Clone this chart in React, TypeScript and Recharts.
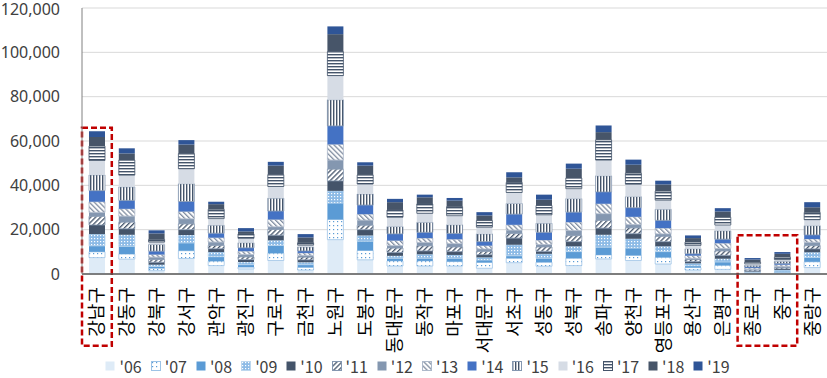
import { BarChart, Bar, XAxis, YAxis, CartesianGrid, Legend, ReferenceArea } from 'recharts';

// 자치구 (x축)
const districts = [
  '강남구', '강동구', '강북구', '강서구', '관악구', '광진구', '구로구', '금천구', '노원구',
  '도봉구', '동대문구', '동작구', '마포구', '서대문구', '서초구', '성동구', '성북구', '송파구',
  '양천구', '영등포구', '용산구', '은평구', '종로구', '중구', '중랑구',
];

// 연도별 값 (districts 순서)
const v06 = [7400, 6700, 1500, 7000, 3800, 2300, 6100, 1800, 15500, 6400, 3600, 3600, 3600, 2600, 5100, 3500, 3800, 6800, 6100, 4500, 1800, 2100, 200, 400, 2900];
const v07 = [2600, 2300, 1100, 3500, 2000, 800, 3300, 1200, 9100, 4200, 2300, 2300, 2000, 2600, 2000, 1800, 3300, 1800, 2300, 3000, 1100, 1800, 200, 400, 2600];
const v08 = [2700, 3500, 800, 3500, 2000, 1100, 3500, 1200, 7400, 4200, 1200, 1200, 1500, 1100, 1100, 1800, 3000, 3500, 3300, 2600, 800, 1500, 300, 500, 2000];
const v09 = [5300, 5200, 800, 3600, 2100, 1200, 2300, 1100, 5500, 2600, 1100, 1800, 1500, 1200, 5000, 2000, 2400, 5600, 4200, 2400, 1100, 1500, 300, 500, 2300];
const v10 = [4100, 2700, 1100, 2400, 1500, 1100, 2300, 1100, 4500, 2600, 1500, 1500, 1500, 1200, 3000, 1100, 2100, 3000, 2300, 2100, 800, 1500, 300, 500, 1500];
const v11 = [3900, 3000, 1200, 2600, 1500, 1200, 2600, 1200, 5300, 2000, 2000, 2300, 2100, 1500, 2100, 2000, 2700, 3500, 2600, 2400, 900, 2000, 500, 600, 1500];
const v12 = [1800, 2700, 1100, 2300, 1500, 1100, 1200, 800, 4100, 2300, 1100, 1500, 1500, 1100, 1500, 1100, 2300, 3000, 1500, 1100, 600, 1100, 300, 500, 1500];
const v13 = [4800, 3300, 1200, 3300, 2000, 1500, 3300, 1100, 7100, 2700, 2300, 2000, 2000, 1500, 2400, 2000, 3800, 4500, 3500, 2600, 1200, 2400, 600, 800, 1500];
const v14 = [5000, 3800, 1500, 4500, 2000, 1500, 3800, 900, 8300, 4100, 3000, 2600, 2600, 1800, 4800, 3500, 4500, 5300, 4100, 3500, 800, 1800, 500, 600, 1800];
const v15 = [7100, 6100, 3000, 8000, 3600, 2300, 5800, 1800, 11800, 5000, 3300, 4500, 3900, 3500, 4800, 4100, 6100, 7300, 5000, 5000, 2300, 3800, 700, 900, 4200];
const v16 = [6500, 5300, 1100, 6800, 3000, 2000, 5300, 800, 10900, 4500, 4200, 4100, 4100, 3000, 5000, 3800, 4500, 7100, 5600, 4100, 1500, 2600, 700, 800, 2700];
const v17 = [6500, 6800, 1200, 6800, 4200, 2000, 5300, 1100, 10800, 4100, 3300, 4200, 4100, 3000, 4500, 4200, 4800, 9100, 5000, 4100, 1500, 3500, 700, 1100, 3300];
const v18 = [4100, 3000, 2700, 4100, 2300, 1100, 4100, 2400, 7900, 4200, 3500, 3000, 2700, 2300, 2300, 2600, 4200, 3500, 3800, 3000, 1800, 2600, 1200, 1500, 2300];
const v19 = [2600, 2300, 1400, 2000, 1100, 1500, 1700, 1500, 3500, 1500, 1500, 1200, 1200, 1500, 2300, 2300, 2300, 3000, 2300, 1700, 1200, 1500, 700, 800, 2300];

const yTicks = [0, 20000, 40000, 60000, 80000, 100000, 120000];

// 강조 박스 (빨간 점선)
const boxGangnam = { from: '강남구', to: '강남구', top: 66000 };
const boxJongno = { from: '종로구', to: '중구', top: 17500 };
const boxBottom = -32400;

const series = [
  { key: 'y06', name: "'06", values: v06, fill: '#DEEBF7' },
  { key: 'y07', name: "'07", values: v07, fill: 'url(#p07)', stroke: '#9DC3E6' },
  { key: 'y08', name: "'08", values: v08, fill: '#5B9BD5' },
  { key: 'y09', name: "'09", values: v09, fill: 'url(#p09)', stroke: '#BDD7EE' },
  { key: 'y10', name: "'10", values: v10, fill: '#44546A' },
  { key: 'y11', name: "'11", values: v11, fill: 'url(#p11)', stroke: '#8497B0' },
  { key: 'y12', name: "'12", values: v12, fill: '#8497B0' },
  { key: 'y13', name: "'13", values: v13, fill: 'url(#p13)', stroke: '#ADB9CA' },
  { key: 'y14', name: "'14", values: v14, fill: '#4472C4' },
  { key: 'y15', name: "'15", values: v15, fill: 'url(#p15)', stroke: '#8497B0' },
  { key: 'y16', name: "'16", values: v16, fill: '#D6DCE5' },
  { key: 'y17', name: "'17", values: v17, fill: 'url(#p17)', stroke: '#44546A' },
  { key: 'y18', name: "'18", values: v18, fill: '#475569' },
  { key: 'y19', name: "'19", values: v19, fill: '#2F5597' },
];

const chartData = districts.map((name, i) => {
  const row: Record<string, string | number> = { name };
  series.forEach((s) => {
    row[s.key] = s.values[i];
  });
  return row;
});

const FONT = "'Noto Sans CJK KR', 'Noto Sans', sans-serif";

const PatternDefs = () => (
  <svg width={0} height={0} style={{ position: 'absolute' }}>
    <defs>
      <pattern id="p07" width={4} height={4} patternUnits="userSpaceOnUse">
        <rect width={4} height={4} fill="#fff" />
        <rect x={1} y={1} width={1.2} height={1.2} fill="#5B9BD5" />
      </pattern>
      <pattern id="p09" width={3} height={3} patternUnits="userSpaceOnUse">
        <rect width={3} height={3} fill="#8DBBE6" />
        <rect x={1} y={1} width={1.2} height={1.2} fill="#fff" />
      </pattern>
      <pattern id="p11" width={3.5} height={3.5} patternUnits="userSpaceOnUse" patternTransform="rotate(45)">
        <rect width={3.5} height={3.5} fill="#fff" />
        <rect width={1.3} height={3.5} fill="#44546A" />
      </pattern>
      <pattern id="p13" width={3.5} height={3.5} patternUnits="userSpaceOnUse" patternTransform="rotate(-45)">
        <rect width={3.5} height={3.5} fill="#fff" />
        <rect width={1.3} height={3.5} fill="#7F8CA0" />
      </pattern>
      <pattern id="p15" width={3} height={3} patternUnits="userSpaceOnUse">
        <rect width={3} height={3} fill="#fff" />
        <rect width={1.4} height={3} fill="#44546A" />
      </pattern>
      <pattern id="p17" width={3} height={3} patternUnits="userSpaceOnUse">
        <rect width={3} height={3} fill="#fff" />
        <rect width={3} height={1.4} fill="#44546A" />
      </pattern>
    </defs>
  </svg>
);

const DistrictTick = ({ x, y, payload }: any) => (
  <text
    x={x}
    y={y}
    transform={`rotate(-90, ${x}, ${y})`}
    textAnchor="end"
    dy="0.36em"
    fontSize={18}
    fill="#000"
    fontFamily={FONT}
  >
    {payload.value}
  </text>
);

const renderLegend = () => (
  <div
    style={{
      display: 'flex',
      justifyContent: 'center',
      fontFamily: FONT,
      fontSize: 16,
      lineHeight: '18px',
      color: '#404040',
      paddingLeft: 8,
      paddingTop: 1,
    }}
  >
    {series.map((s, i) => (
      <div
        key={s.key}
        style={{ display: 'flex', alignItems: 'center', marginRight: i === series.length - 1 ? 0 : 9 }}
      >
        <svg width={10} height={10}>
          <rect x={0.5} y={0.5} width={9} height={9} fill={s.fill} stroke={s.stroke ?? 'none'} />
        </svg>
        <span style={{ marginLeft: 4 }}>{s.name}</span>
      </div>
    ))}
  </div>
);

const App = () => {
  return (
    <div style={{ position: 'absolute', left: 0, top: 0, width: 827, height: 378, background: '#fff' }}>
      <PatternDefs />
      <BarChart
        width={827}
        height={378}
        data={chartData}
        margin={{ top: 8, right: 0, bottom: 0, left: 0 }}
        barSize={16}
      >
        <CartesianGrid vertical={false} stroke="#D9D9D9" />
        <XAxis
          dataKey="name"
          interval={0}
          height={82}
          tick={<DistrictTick />}
          tickLine={false}
          tickMargin={7}
          axisLine={{ stroke: '#595959', strokeWidth: 1.5 }}
        />
        <YAxis
          domain={[0, 120000]}
          ticks={yTicks}
          width={82}
          tickLine={false}
          tickMargin={16}
          axisLine={{ stroke: '#808080' }}
          tick={{ fontSize: 16, fill: '#404040', fontFamily: "'Noto Sans', sans-serif" }}
          tickFormatter={(value: number) => value.toLocaleString('en-US')}
        />
        <Legend verticalAlign="bottom" height={22} content={renderLegend} />
        {series.map((s) => (
          <Bar
            key={s.key}
            dataKey={s.key}
            name={s.name}
            stackId="a"
            fill={s.fill}
            stroke={s.stroke}
            strokeWidth={s.stroke ? 0.8 : 0}
            isAnimationActive={false}
          />
        ))}
        <ReferenceArea
          x1={boxGangnam.from}
          x2={boxGangnam.to}
          y1={boxBottom}
          y2={boxGangnam.top}
          ifOverflow="visible"
          fill="none"
          stroke="#C00000"
          strokeWidth={2.5}
          strokeDasharray="6 3"
        />
        <ReferenceArea
          x1={boxJongno.from}
          x2={boxJongno.to}
          y1={boxBottom}
          y2={boxJongno.top}
          ifOverflow="visible"
          fill="none"
          stroke="#C00000"
          strokeWidth={2.5}
          strokeDasharray="6 3"
        />
      </BarChart>
    </div>
  );
};

export default App;
